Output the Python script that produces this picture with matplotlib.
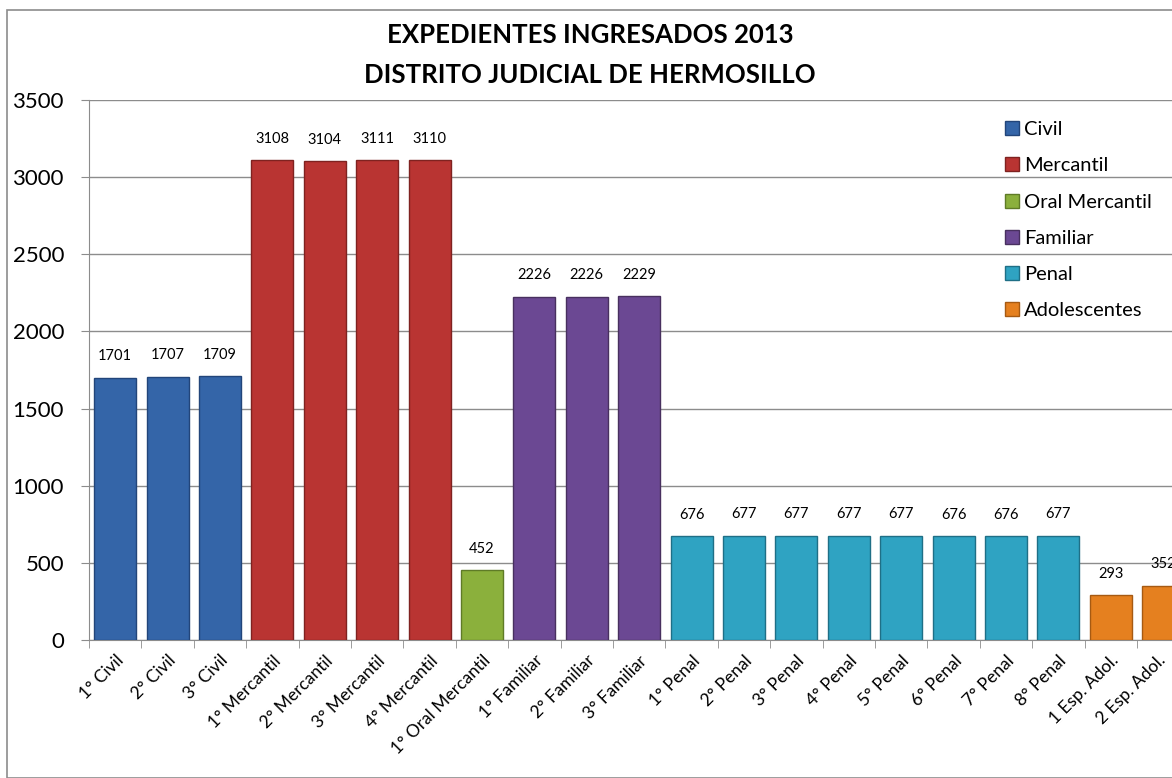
import matplotlib.pyplot as plt
from matplotlib.patches import Rectangle
from matplotlib.transforms import ScaledTranslation
import numpy as np

plt.rcParams['font.family'] = ['Lato', 'DejaVu Sans']

# Data
categories = ['1° Civil', '2° Civil', '3° Civil',
              '1° Mercantil', '2° Mercantil', '3° Mercantil', '4° Mercantil',
              '1° Oral Mercantil',
              '1° Familiar', '2° Familiar', '3° Familiar',
              '1° Penal', '2° Penal', '3° Penal', '4° Penal',
              '5° Penal', '6° Penal', '7° Penal', '8° Penal',
              '1 Esp. Adol.', '2 Esp. Adol.']
values = [1701, 1707, 1709,
          3108, 3104, 3111, 3110,
          452,
          2226, 2226, 2229,
          676, 677, 677, 677, 677, 676, 676, 677,
          293, 352]
groups = ['Civil'] * 3 + ['Mercantil'] * 4 + ['Oral Mercantil'] + ['Familiar'] * 3 \
    + ['Penal'] * 8 + ['Adolescentes'] * 2
group_names = ['Civil', 'Mercantil', 'Oral Mercantil', 'Familiar', 'Penal', 'Adolescentes']
group_colors = {'Civil': '#3465a8', 'Mercantil': '#b93432', 'Oral Mercantil': '#8bb03c',
                'Familiar': '#6b4893', 'Penal': '#2fa3c2', 'Adolescentes': '#e5801f'}
edge_colors = {'Civil': '#22457a', 'Mercantil': '#7f2220', 'Oral Mercantil': '#5f7b27',
               'Familiar': '#48305f', 'Penal': '#1f6f86', 'Adolescentes': '#a65a12'}

W, H = 1172, 778
fig = plt.figure(figsize=(W / 100, H / 100), dpi=100)
fig.patches.append(Rectangle((7 / W, 0), 1.2, (H - 10) / H, transform=fig.transFigure,
                             fill=False, edgecolor='#8c8c8c', linewidth=1.2))

left, right = 89, 89 + 21 * 52.4
ax = fig.add_axes([left / W, (H - 640) / H, (right - left) / W, 540 / H])

x = np.arange(len(categories))
for g in group_names:
    idx = [i for i, gg in enumerate(groups) if gg == g]
    ax.bar(x[idx], [values[i] for i in idx], width=0.8, color=group_colors[g],
           edgecolor=edge_colors[g], linewidth=1, label=g, zorder=3)

for i, v in enumerate(values):
    ax.text(x[i], v + 92, str(v), ha='center', va='bottom', fontsize=10.5, zorder=4)

ax.set_xlim(-0.5, len(categories) - 0.5)
ax.set_ylim(0, 3500)
ax.set_yticks(range(0, 3501, 500))
ax.tick_params(axis='y', labelsize=16, length=6, color='#8c8c8c', pad=12)
ax.set_xticks(x)
ax.set_xticklabels(categories, rotation=45, ha='right', rotation_mode='anchor', fontsize=12.5)
ax.tick_params(axis='x', which='major', length=0, pad=9)
ax.set_xticks(np.arange(-0.5, len(categories), 1), minor=True)
ax.tick_params(axis='x', which='minor', length=6, color='#8c8c8c')

# nudge the last label so it stays inside the picture
last = ax.get_xticklabels()[-1]
last.set_transform(last.get_transform() + ScaledTranslation(-6 / 100, 0, fig.dpi_scale_trans))

ax.grid(axis='y', color='#8c8c8c', linewidth=1, zorder=0)
ax.set_axisbelow(True)
for s in ['top', 'right']:
    ax.spines[s].set_visible(False)
ax.spines['left'].set_color('#8c8c8c')
ax.spines['bottom'].set_color('#8c8c8c')

fig.legend(loc='upper left', bbox_to_anchor=(987 / W, 1 - 103 / H), frameon=False,
           fontsize=14.5, handlelength=0.7, handleheight=0.7, handletextpad=0.25,
           labelspacing=0.95)

fig.text(590 / W, 1 - 35 / H, 'EXPEDIENTES INGRESADOS 2013', ha='center', va='center',
         fontsize=18.5, fontweight='bold')
fig.text(590 / W, 1 - 75 / H, 'DISTRITO JUDICIAL DE HERMOSILLO', ha='center', va='center',
         fontsize=18.5, fontweight='bold')

fig.savefig('out.png', dpi=100)
